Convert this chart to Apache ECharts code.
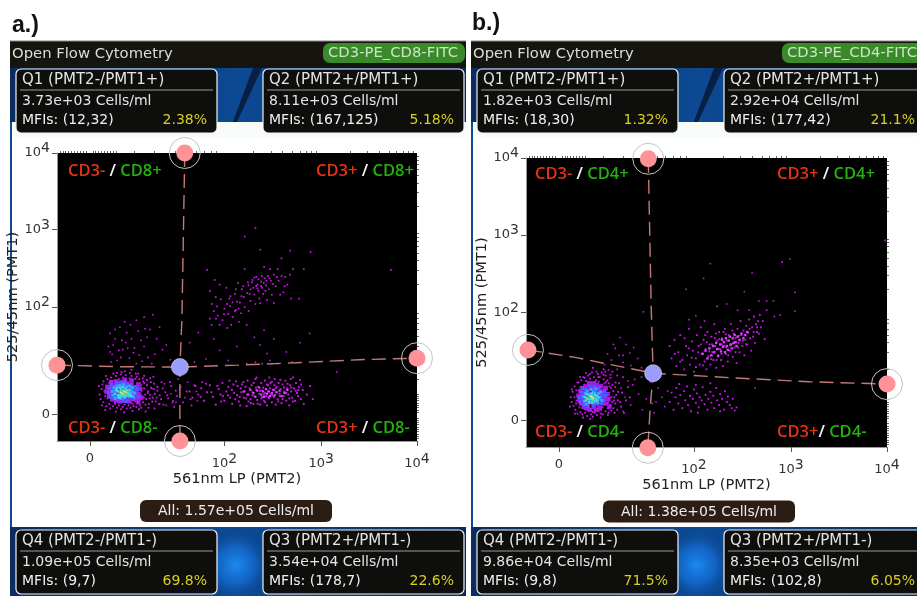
<!DOCTYPE html>
<html><head><meta charset="utf-8">
<script src="https://cdn.jsdelivr.net/npm/echarts@6/dist/echarts.min.js"></script>
<style>html,body{margin:0;background:#fff}#c{width:917px;height:596px;filter:blur(0.45px)}</style></head>
<body><div id="c"></div>
<script>
// axis unit: 100 = one decade on the displayed scale (200 = 10^2, 300 = 10^3, 400 = 10^4, 62 = "0")
const tickValues=[62,201,301,400];
const tickLabels=['0','{n|10}{s|2}','{n|10}{s|3}','{n|10}{s|4}'];
const minorTicks=[31,34,37,40,43,46,49,52,55,58,65,68,71,74,77,80,83,86,89,108,128,150,163,172,180,187,193,231,249,261,271,279,286,291,296,331,349,361,371,379,386,391,396];

// Panel a: events, pairs of x,y
const aQ4Halo=[72,88,74,95,73,82,75,101,76,78,77,92,76,105,78,86,79,73,79,99,80,108,81,90,80,83,82,76,82,103,83,95,83,70,84,110,84,87,85,80,86,98,86,73,87,106,87,91,88,84,88,76,89,112,89,101,90,71,90,95,91,88,91,80,92,108,92,74,93,103,93,96,94,69,94,114,95,85,95,78,96,110,96,72,97,101,97,92,98,75,98,106,99,83,99,113,100,70,100,97,101,104,101,79,102,88,102,74,103,109,103,94,104,71,104,100,105,82,105,112,106,76,106,105,107,90,107,73,108,99,108,85,109,79,109,108,110,93,110,72,111,103,111,86,112,77,112,97,113,90,113,108,114,82,114,74,115,100,115,93,116,86,117,78,117,105,118,96,119,88,120,82,121,100,122,92,123,76,124,88,125,104,127,84,128,95,130,79,132,98,134,87,136,104,138,75,140,91,143,83,146,99,149,72,152,86,155,95,158,78,162,92,166,82,170,100,112,115,98,118,105,120,90,116,118,112];
const aQ4Halo2=[113.5,103,119.4,75,116.6,109,121.7,90,125.2,97,110.3,111,123.8,83,129.1,89,118.2,103,126.4,79,115.1,71,131.7,93,120.9,107,112.7,69,128.3,102,135.6,82,124.3,109,117.8,84,122.5,71,137.2,96,133.4,76,141.9,87,127.6,111,109.4,115,103.2,116,94.7,117,86.3,115,78.5,112,74.6,74,71.3,99,77.8,68,88.9,66,97.4,65,106.1,67,119.6,66,128.8,70,144.8,104,147.3,78,150.7,93];
const aQ4Fill=[82,86,83,92,84,97,85,82,86,89,87,100,88,85,88,94,89,80,90,98,90,90,91,103,92,84,92,94,93,79,94,100,94,88,95,95,96,83,96,104,97,90,98,80,98,97,99,87,100,102,100,93,101,83,102,98,103,88,103,79,104,94,105,85,105,101,106,91,107,82,108,96,109,87,110,92,111,83,112,100,113,88,114,95,115,84,112,78,84,104,89,105,79,92,80,98,98,107,105,106];
const aQ4Blue=[81,90,82,96,83,85,84,101,85,88,86,95,87,84,88,91,89,99,90,86,90,103,91,82,92,97,93,89,94,85,94,104,95,100,96,87,96,80,97,83,98,104,99,97,100,85,100,79,101,101,102,95,103,84,104,100,105,96,106,87,107,92,108,83,109,98,110,89,111,95,112,85];
const aQ4Sky=[85,92,86,87,87,97,88,83,89,93,90,99,91,85,92,92,93,100,94,83,95,96,96,86,97,101,98,84,99,94,100,98,101,87,102,91,103,99,104,86,105,92,106,97,107,85,108,90];
const aQ4Cyan=[88,89,89,94,90,96,91,87,92,84,93,85,93,97,94,90,95,87,96,98,97,86,98,92,99,88,100,94,101,90,102,86,103,94,104,89,105,86];
const aQ4Green=[91,92,93,88,94,94,95,90,96,93,97,89,98,96,99,86,100,90,101,93,102,89];
const aQ4Yellow=[94,91,96,89,97,92,99,91];
const aQ1=[127,191,118,188,110,184,112,170,104,178,100,168,93,175,88,160,83,167,81,150,85,140,90,132,96,146,99,155,105,160,108,148,113,139,118,150,121,162,124,172,95,158,103,135,110,128,116,131,122,136,126,128,92,145,86,152,88,172,98,182,107,142,115,158,119,173,101,148,94,136,84,130,129,140,134,175,137,146,145,133,131,160,141,152,83,143];
const aQ2=[183,249,191,236,222,292,233,303,238,275,269,274,290,272,260,264,373,249,186,222,192,214,188,205,190,196,194,190,199,184,196,178,186,186,201,199,206,212,207,202,205,192,210,188,212,218,214,208,213,197,217,207,219,224,221,214,222,201,218,193,208,178,226,229,227,218,228,209,230,236,231,226,232,217,234,240,235,230,236,222,237,212,239,234,240,226,241,218,243,238,244,229,246,241,247,224,249,235,250,217,252,243,254,228,256,250,257,235,260,241,245,210,233,205,226,196,216,182,224,178,262,220,266,230,272,250,270,212,278,212,283,250,252,206,264,240,248,250,242,253,222,250,238,206,203,226,196,230,215,232,204,174];
const aQ2b=[229.4,233,233.7,228,236.3,237,238.8,228,241.6,232,228.2,224,231.9,239,225.3,233,235.1,225,244.5,235,239.7,241,247.6,238,220.4,228,224.6,219,209.3,207,203.7,205,211.8,196,215.6,199,207.2,215,200.6,192,193.4,202,197.5,211,212.9,224,218.7,215,243.4,222,251.2,231,255.3,240,263.1,228,268.7,243,258.6,217,192.3,186,187.8,178];
const aQ2Low=[232,162,238,152,245,141,252,160,248,132,233,130,265,143,279,155,289,167,256,128,271,130,242,171,224,128,205,132,196,145,182,134,174,168,165,155,170,130,190,160,317,117,214,150,240,128];
const aQ3=[165,92,168,84,171,99,174,88,177,96,180,80,183,91,186,100,189,85,192,75,195,95,197,88,199,103,201,80,203,92,205,98,207,84,209,76,211,90,213,105,214,87,216,79,218,96,219,101,221,84,222,92,224,73,225,106,226,88,227,96,228,82,229,100,230,91,231,76,232,86,233,108,234,94,235,81,236,98,237,89,238,75,239,103,240,85,240,93,241,97,242,80,243,106,243,90,244,86,245,74,246,100,246,92,247,83,248,96,249,88,250,104,250,78,251,94,252,85,253,108,254,91,254,75,255,98,256,82,257,103,258,89,259,95,260,77,261,101,262,86,263,92,264,106,265,80,266,96,267,88,268,74,269,100,270,92,271,84,272,110,273,96,274,80,275,103,276,90,277,86,278,98,280,82,282,94,283,76];
const aQ3b=[204.6,87,210.3,101,216.8,85,222.7,98,228.4,77,233.6,97,239.2,83,244.9,101,250.8,87,256.7,79,262.4,97,268.1,83,274.6,93,280.3,101,212.2,82,218.5,91,225.9,79,231.3,103,237.8,93,243.1,78,248.6,103,254.2,96,260.9,82,266.3,102,271.7,79,277.4,94,208.7,94,199.4,86,193.8,99,187.6,91,181.9,102,176.3,85,220.6,104,235.4,76,246.3,85,252.7,100,258.1,86,264.8,90,270.2,97,241.7,88,229.9,87,223.4,83,217.3,74,214.7,99,206.2,106,197.8,79,286.1,88,289.6,99,292.3,82,247.4,110,234.2,110,258.8,107,269.5,108,279.1,107];
const aQ3Core=[221,92,225,88,228,94,231,90,233,85,235,93,237,97,239,88,241,92,242,85,244,95,245,89,247,92,248,86,250,90,252,94,253,87,255,91,258,93,260,86,263,90,266,94];
const aGap=[126,96,131,84,139,102,146,89,151,78,141,74,156,98,160,84,163,104,167,74,172,92,153,108,148,80,134,76,178,104,173,80];
const aGateH=[28,126,90,124,155,123.5,215,126,274,129,340,133,400,135];
const aGateV=[160,400,158,250,157,184,155,123.5,155,28];
const aCentre=[155,123.5];
const aHandles=[28,126,400,135,160,400,155,28];

// Panel b
const bQ4Halo=[74,92,75,86,76,99,77,81,78,106,78,92,79,76,80,88,80,101,81,71,81,111,82,95,83,84,83,79,84,105,84,73,85,114,85,92,86,100,86,70,87,84,87,118,88,108,88,77,89,96,89,72,90,113,90,103,91,87,91,68,92,120,92,82,93,107,93,75,94,98,94,116,95,70,95,90,96,124,96,110,97,78,97,67,98,103,98,118,99,72,99,85,100,114,100,107,101,69,101,92,102,122,102,80,103,112,103,74,104,100,104,118,105,71,105,88,106,108,106,124,107,79,107,70,108,115,108,97,109,85,109,110,110,74,110,120,111,102,111,92,112,78,112,114,113,87,113,72,114,106,114,98,115,82,115,117,116,92,116,75,117,108,117,86,118,100,118,78,119,92,120,105,120,84,121,95,122,76,123,88,124,110,126,80,127,98,129,72,131,88,133,105,135,92,122,120,117,125,128,118,108,128,97,130];
const bQ4Halo2=[79.6,84,82.3,111,85.8,78,88.4,117,91.2,75,93.7,122,96.9,73,99.4,112,102.6,118,105.3,76,107.8,121,110.6,112,113.4,110,115.8,104,118.7,88,120.3,111,122.9,99,125.1,86,119.2,72,112.4,69,104.8,66,94.3,64,86.7,66,78.4,71,75.2,102,73.4,80,83.7,118,89.8,123,100.7,125,109.6,125,115.2,121];
const bQ4Fill=[82,94,83,88,84,100,85,84,86,96,87,90,87,104,88,80,88,98,89,86,90,106,90,78,91,93,92,101,92,84,93,110,94,90,94,76,95,104,96,86,96,96,97,110,98,80,98,92,99,102,100,87,100,76,101,108,101,96,102,84,103,100,104,90,104,78,105,106,106,94,107,84,108,100,109,90,110,104,111,84,112,96,113,90,114,80];
const bQ4Blue=[83,92,84,86,85,98,86,104,87,82,88,90,89,84,89,102,90,94,91,88,92,97,92,80,93,92,94,106,95,86,95,94,96,102,97,82,97,96,98,106,99,92,100,100,101,84,102,94,103,104,104,98,105,90,106,84,107,95,108,88,109,99,110,94];
const bQ4Sky=[87,93,88,87,89,97,90,83,91,100,92,90,93,85,94,96,95,102,96,88,97,99,98,85,99,97,100,103,101,91,102,85,103,97,104,92,105,99,106,88];
const bQ4Cyan=[89,92,90,88,91,96,92,90,93,86,94,94,95,90,96,85,96,97,97,92,98,88,99,95,100,90,101,94,102,88,103,92];
const bQ4Green=[91,91,93,94,94,89,95,92,96,94,97,89,98,92,100,87];
const bQ4Yellow=[95,93,97,91];
const bGap=[126,104,130,92,136,82,140,115,144,96,148,76,152,90,156,112,158,84,160,72,164,104,168,92,171,80,174,100,138,108,147,118,154,122,162,86,128,74,133,113];
const bQ1=[125,169,112,148,116,140,120,155,124,146,128,137,131,160,135,149,139,156,143,142,147,130,122,128,109,134,113,127,136,133,128,146,149,202,118,160];
const bQ3=[176,86,178,98,180,76,182,92,183,104,185,84,187,95,189,78,191,100,192,88,194,106,195,82,197,94,198,74,200,90,201,102,203,85,204,97,206,79,207,92,209,88,210,105,212,83,213,95,215,76,216,90,218,99,219,85,221,94,222,78,224,104,225,88,227,82,228,96,230,90,232,76,233,100,235,86,236,93,238,82,240,78,241,90,243,75,245,79,186,109,203,108,218,110,205,72,228,74];
const bQ2=[176,158,178,142,181,166,183,132,185,150,187,172,189,140,191,128,193,158,194,146,196,180,197,134,199,164,200,152,201,125,203,142,204,172,206,158,207,134,208,182,209,148,211,166,212,138,213,154,214,128,215,176,216,145,217,160,218,134,219,170,220,150,221,140,222,186,223,158,224,130,225,165,226,146,227,176,228,154,229,140,230,168,231,132,232,158,233,180,234,148,235,165,236,138,237,172,238,152,239,186,240,160,241,144,242,174,243,156,244,168,245,136,246,180,247,162,248,150,249,190,250,172,251,158,252,178,253,146,254,166,255,184,256,160,257,175,258,192,259,168,260,152,261,182,262,170,263,196,264,162,265,186,266,176,267,190,268,174,269,198,270,182,272,190,274,167];
const bQ2b=[198.7,143,205.4,150,210.6,133,214.3,163,218.8,141,222.6,168,226.9,154,229.3,148,233.8,173,236.4,146,240.7,178,243.9,150,247.3,171,251.6,165,254.8,160,258.4,180,262.7,176,266.2,182,208.3,160,203.1,131,195.6,155,191.4,168,186.9,138,181.2,148,212.7,172,216.9,151,224.3,140,231.6,176,238.2,159,241.8,162,246.7,156,223.8,174,229.7,160,234.2,156,219.6,160,227.2,167];
const bQ2Core=[210,148,213,152,215,142,217,155,219,146,221,158,222,150,224,162,225,154,226,145,228,160,229,151,230,166,231,157,232,163,233,150,234,168,235,158,236,153,237,165,238,170,239,160,240,155,241,168,242,162,243,172,244,163,245,158,246,170,248,166,250,174,252,168,254,172,256,176];
const bQ2Top=[218,264,211,245,193,231,261,252,253,228,292,266,300,270,305,227,276,216,283,216,268,216,225,209,235,212,305,203,264,104,398,294,196,192,203,197,212,190,284,196,258,204,246,204,276,204,290,198];
const bGateH=[30,153,80,143,159,123,241,117,320,112,400,109];
const bGateV=[154,399,157,208,159,123,156,79,153.5,27];
const bCentre=[159,123];
const bHandles=[30,153,400,109,154,399,153.5,27];

const FONT='"DejaVu Sans",sans-serif';
const QFONT='"Open Sans","Noto Sans",sans-serif';
const pairs=a=>{const r=[];for(let i=0;i<a.length;i+=2)r.push([a[i],a[i+1]]);return r;};
const grid=[],xAxis=[],yAxis=[],series=[];
const axisFmt=v=>{const i=tickValues.indexOf(v);return i<0?'':tickLabels[i];};
const rich={n:{fontFamily:FONT,fontSize:13,color:'#333'},s:{fontFamily:FONT,fontSize:14,color:'#333',padding:[0,0,9,0]}};
function panel(i,g,xName,yName,layers,gateH,gateV,centre,handles){
 grid.push({left:g[0],top:g[1],width:g[2],height:g[3],show:true,backgroundColor:'#000',borderWidth:0});
 const mk=(dim,name)=>[
  {gridIndex:i,type:'value',min:28,max:400,splitLine:{show:false},silent:true,
   name,nameLocation:'middle',nameGap:dim=='x'?31:28,nameTextStyle:{fontFamily:FONT,fontSize:14.6,color:'#222'},
   axisLine:{show:true,lineStyle:{color:'#999',width:1}},
   axisTick:{show:true,customValues:tickValues,length:5,lineStyle:{color:'#555'}},
   axisLabel:{show:true,customValues:tickValues,formatter:axisFmt,rich,margin:dim=='x'?11:7,color:'#333',fontFamily:FONT,fontSize:13,hideOverlap:false}},
  {gridIndex:i,type:'value',min:28,max:400,splitLine:{show:false},silent:true,axisLine:{show:false},
   axisTick:{show:true,customValues:minorTicks,length:2,lineStyle:{color:'#666'}},axisLabel:{show:false}}];
 xAxis.push(...mk('x',xName));yAxis.push(...mk('y',yName));
 const ax={xAxisIndex:2*i,yAxisIndex:2*i,silent:true,animation:false};
 layers.forEach(l=>series.push({...ax,type:'scatter',symbol:'rect',symbolSize:l[2],data:pairs(l[0]),itemStyle:{color:l[1],opacity:1},z:2}));
 const ln=d=>({...ax,type:'line',data:pairs(d),showSymbol:false,clip:false,z:5,lineStyle:{color:'#c57878',width:1.4,type:[14,7]}});
 series.push(ln(gateH),ln(gateV));
 series.push({...ax,type:'scatter',clip:false,data:pairs(handles),symbol:'circle',symbolSize:31,z:6,itemStyle:{color:'rgba(0,0,0,0)',borderColor:'#c4c4c4',borderWidth:1,opacity:1}});
 series.push({...ax,type:'scatter',clip:false,data:pairs(handles),symbol:'circle',symbolSize:17,z:7,itemStyle:{color:'#ff9296',opacity:1}});
 series.push({...ax,type:'scatter',clip:false,data:pairs(centre),symbol:'circle',symbolSize:17,z:7,itemStyle:{color:'#9a9cff',borderColor:'#dde',borderWidth:.6,opacity:1}});
}
const PUR='#cc14f0',BLU='#4a5cff',SKY='#38a8ff',CY='#38dcea',GR='#58e890',YE='#dcec50',FILL='#a818ec';
panel(0,[57,153,360,288],'561nm LP (PMT2)','525/45nm (PMT1)',
 [[aQ4Halo,PUR,1.8],[aQ4Halo2,PUR,1.8],[aQ1,PUR,1.6],[aQ2,PUR,1.7],[aQ2b,PUR,1.7],[aQ2Low,PUR,1.6],[aQ3,PUR,1.9],[aQ3b,PUR,1.9],[aGap,PUR,1.6],[aQ3Core,'#d840ff',2.2],[aQ4Fill,FILL,4.4],[aQ4Blue,BLU,3.4],[aQ4Sky,SKY,2.8],[aQ4Cyan,CY,2.4],[aQ4Green,GR,2],[aQ4Yellow,YE,1.8]],
 aGateH,aGateV,aCentre,aHandles);
panel(1,[526,158,361,289],'561nm LP (PMT2)','525/45nm (PMT1)',
 [[bQ4Halo,PUR,1.8],[bQ4Halo2,PUR,1.8],[bGap,PUR,1.6],[bQ1,PUR,1.6],[bQ3,PUR,1.8],[bQ2,PUR,1.8],[bQ2b,PUR,1.8],[bQ2Top,PUR,1.6],[bQ2Core,'#d840ff',2.4],[bQ4Fill,FILL,4.4],[bQ4Blue,BLU,3.4],[bQ4Sky,SKY,2.8],[bQ4Cyan,CY,2.4],[bQ4Green,GR,2],[bQ4Yellow,YE,1.8]],
 bGateH,bGateV,bCentre,bHandles);

// Instrument-screen furniture around the plots
const G=[];
const rect=(x,y,w,h,fill,z,r,extra)=>G.push({type:'rect',shape:{x,y,width:w,height:h,r:r||0},style:{fill,...(extra||{})},z:z,silent:true});
const txt=(x,y,t,fill,size,z,align,weight)=>G.push({type:'text',x,y,z:z||20,silent:true,style:{text:t,fill,textAlign:align||'left',textVerticalAlign:'middle',font:(weight||'normal')+' '+size+'px '+FONT}});
const blue=(x0,y0,x1,y1)=>({type:'linear',x:x0,y:y0,x2:x1,y2:y1,global:false,colorStops:[{offset:0,color:'#0a2c60'},{offset:.5,color:'#0c4a94'},{offset:1,color:'#082a5c'}]});
function qbox(x,y,w,t,c,m,p){
 rect(x,y,w,64,'#0e0e0c',15,5,{stroke:'#f2f2f2',lineWidth:1.2});
 G.push({type:'line',shape:{x1:x+4,y1:y+21,x2:x+w-4,y2:y+21},style:{stroke:'#999',lineWidth:1},z:16,silent:true});
 txt(x+6,y+11,t,'#e4e4e4',15,17);txt(x+6,y+32,c,'#e4e4e4',14,17);txt(x+6,y+51,m,'#f0f0f0',14,17);
 txt(x+191,y+51,p,'#d8cf20',14,17,'right');
}
function screen(x0,x1,g,pill,pillX,q,all,allX,allW,quad){
 const w=x1-x0;
 rect(x0,68,w,54,blue(0,0,1,.3),-20);
 G.push({type:'polygon',shape:{points:[[x0+222,124],[x0+243,68],[x0+252,68],[x0+226,124]]},style:{fill:'#0a1f44'},z:-19,silent:true});
 rect(x0,122,w,405,'#fff',-18);
 rect(x0,122,2,405,'#0c4a94',-17);
 rect(x0+2,122,w,15,'#f8fcf9',-17);
 rect(x0,526,w,70,blue(0,.2,1,.8),-20);
 // soft bright glow of the wallpaper between the lower boxes
 rect(x0+190,527,85,69,{type:'radial',x:.42,y:.55,r:.5,global:false,colorStops:[{offset:0,color:'rgba(28,138,240,1)'},{offset:.55,color:'rgba(20,110,215,.7)'},{offset:1,color:'rgba(12,74,148,0)'}]},-19);
 rect(x0,41,w,27,'#15140f',-15);
 G.push({type:'line',shape:{x1:x0,y1:41,x2:x1,y2:41},style:{stroke:'#888',lineWidth:1},z:-14,silent:true});
 txt(x0+2,54,'Open Flow Cytometry','#dcdcdc',14.8,17);
 rect(pillX,43,142,20,'#3b8a2a',16,7);
 txt(pillX+5,53,pill,'#c8e6c4',14.8,17);
 const qx=[x0+6,x0+253];
 qbox(qx[0],69,201,...q[0]);qbox(qx[1],69,201,...q[1]);qbox(qx[0],530,201,...q[2]);qbox(qx[1],530,201,...q[3]);
 rect(allX,g,allW,22,'#2b1d14',16,6);
 txt(allX+allW/2,g+11.5,all,'#ededed',14,17,'center');
 quad.forEach(o=>G.push({type:'text',x:o[0],y:o[1],z:20,silent:true,style:{text:'{r|'+o[2]+'}{w|'+o[3]+' }{g|'+o[4]+'}',textVerticalAlign:'middle',font:'600 16.5px '+QFONT,
   rich:{r:{fill:'#e83410',font:'600 16.5px '+QFONT},w:{fill:'#f4f4f4',font:'600 16.5px '+QFONT},g:{fill:'#22b40a',font:'600 16.5px '+QFONT}}}}));
}
screen(10,466,500,'CD3-PE_CD8-FITC',323,[
 ['Q1 (PMT2-/PMT1+)','3.73e+03 Cells/ml','MFIs: (12,32)','2.38%'],
 ['Q2 (PMT2+/PMT1+)','8.11e+03 Cells/ml','MFIs: (167,125)','5.18%'],
 ['Q4 (PMT2-/PMT1-)','1.09e+05 Cells/ml','MFIs: (9,7)','69.8%'],
 ['Q3 (PMT2+/PMT1-)','3.54e+04 Cells/ml','MFIs: (178,7)','22.6%']],
 'All: 1.57e+05 Cells/ml',140,192,
 [[68,171,'CD3-',' /','CD8+'],[316,171,'CD3+',' /','CD8+'],[68,428,'CD3-',' /','CD8-'],[316,428,'CD3+',' /','CD8-']]);
screen(471,930,500.5,'CD3-PE_CD4-FITC',782,[
 ['Q1 (PMT2-/PMT1+)','1.82e+03 Cells/ml','MFIs: (18,30)','1.32%'],
 ['Q2 (PMT2+/PMT1+)','2.92e+04 Cells/ml','MFIs: (177,42)','21.1%'],
 ['Q4 (PMT2-/PMT1-)','9.86e+04 Cells/ml','MFIs: (9,8)','71.5%'],
 ['Q3 (PMT2+/PMT1-)','8.35e+03 Cells/ml','MFIs: (102,8)','6.05%']],
 'All: 1.38e+05 Cells/ml',603,192,
 [[535,174,'CD3-',' /','CD4+'],[777,174,'CD3+',' /','CD4+'],[535,432,'CD3-',' /','CD4-'],[777,432,'CD3+','/','CD4-']]);
G.push({type:'text',x:12,y:26,z:20,silent:true,style:{text:'a.)',fill:'#111',textVerticalAlign:'middle',font:'bold 23px "Liberation Sans",Arial,sans-serif'}});
G.push({type:'text',x:472,y:24,z:20,silent:true,style:{text:'b.)',fill:'#111',textVerticalAlign:'middle',font:'bold 23px "Liberation Sans",Arial,sans-serif'}});

const chart=echarts.init(document.getElementById('c'),null,{renderer:'canvas'});
chart.setOption({animation:false,backgroundColor:'#fff',grid,xAxis,yAxis,series,graphic:{elements:G}});
</script></body></html>
